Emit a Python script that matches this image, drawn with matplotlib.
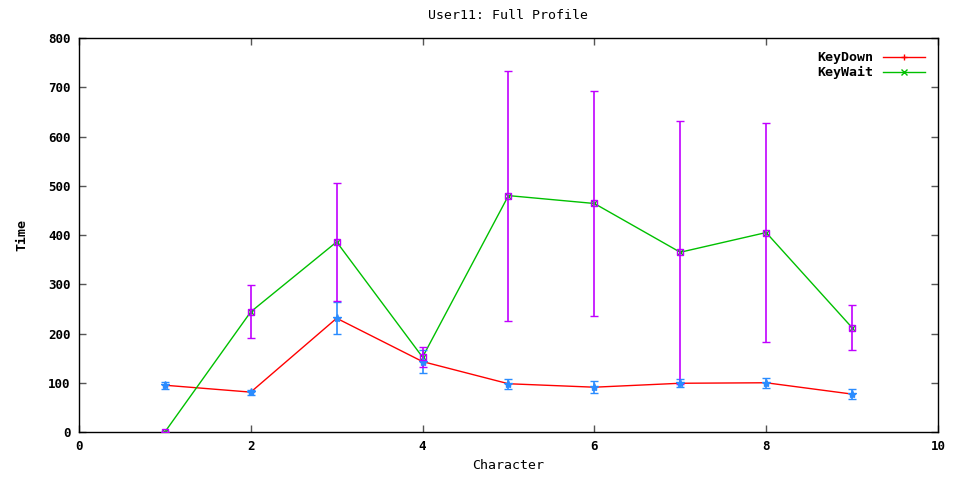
import matplotlib.pyplot as plt
import numpy as np

chars = [1, 2, 3, 4, 5, 6, 7, 8, 9]

key_down = [95, 81, 231, 143, 98, 91, 99, 100, 77]
key_down_err = [7, 5, 32, 24, 10, 12, 8, 10, 10]

key_wait = [0, 244, 386, 152, 480, 464, 365, 405, 212]
key_wait_err = [0, 54, 120, 20, 254, 229, 267, 223, 46]

plt.rcParams['font.family'] = ['DejaVu Sans Mono']
plt.rcParams['font.size'] = 9
plt.rcParams['font.weight'] = 'bold'

fig = plt.figure(figsize=(9.56, 4.78), dpi=100)
ax = fig.add_axes([0.0826, 0.0962, 0.8985, 0.8243])

# linien
ax.plot(chars, key_down, color='#ff0000', lw=1, marker='+', ms=5, label='KeyDown', zorder=3)
ax.plot(chars, key_wait, color='#00c000', lw=1, marker='x', ms=4, label='KeyWait', zorder=3)

# fehlerbalken (ohne legende)
ax.errorbar(chars, key_down, yerr=key_down_err, fmt='*', color='#2a8cff', ms=6,
            elinewidth=1.2, capsize=3, capthick=1, zorder=4)
ax.errorbar(chars, key_wait, yerr=key_wait_err, fmt='s', mfc='none', mec='#c000ff',
            color='#c000ff', ms=5, elinewidth=1.2, capsize=3, capthick=1, zorder=4)

ax.set_xlim(0, 10)
ax.set_ylim(0, 800)
ax.set_xticks(np.arange(0, 11, 2))
ax.set_yticks(np.arange(0, 801, 100))
ax.tick_params(direction='in', top=True, right=True, length=5, width=1, colors='#555555',
               labelcolor='#000000', pad=6)
for s in ax.spines.values():
    s.set_color('#000000')
    s.set_linewidth(1)

ax.set_title('User11: Full Profile', pad=14, fontsize=9.5)
ax.set_xlabel('Character', labelpad=4, fontsize=9.5)
ax.set_ylabel('Time', labelpad=14, fontsize=9.5, fontweight='bold')

ax.legend(loc='upper right', markerfirst=False, frameon=False, numpoints=1,
          handlelength=3.2, borderaxespad=0.6, labelspacing=0.15, handletextpad=0.7,
          fontsize=9.5)

fig.savefig('out.png', dpi=100)
